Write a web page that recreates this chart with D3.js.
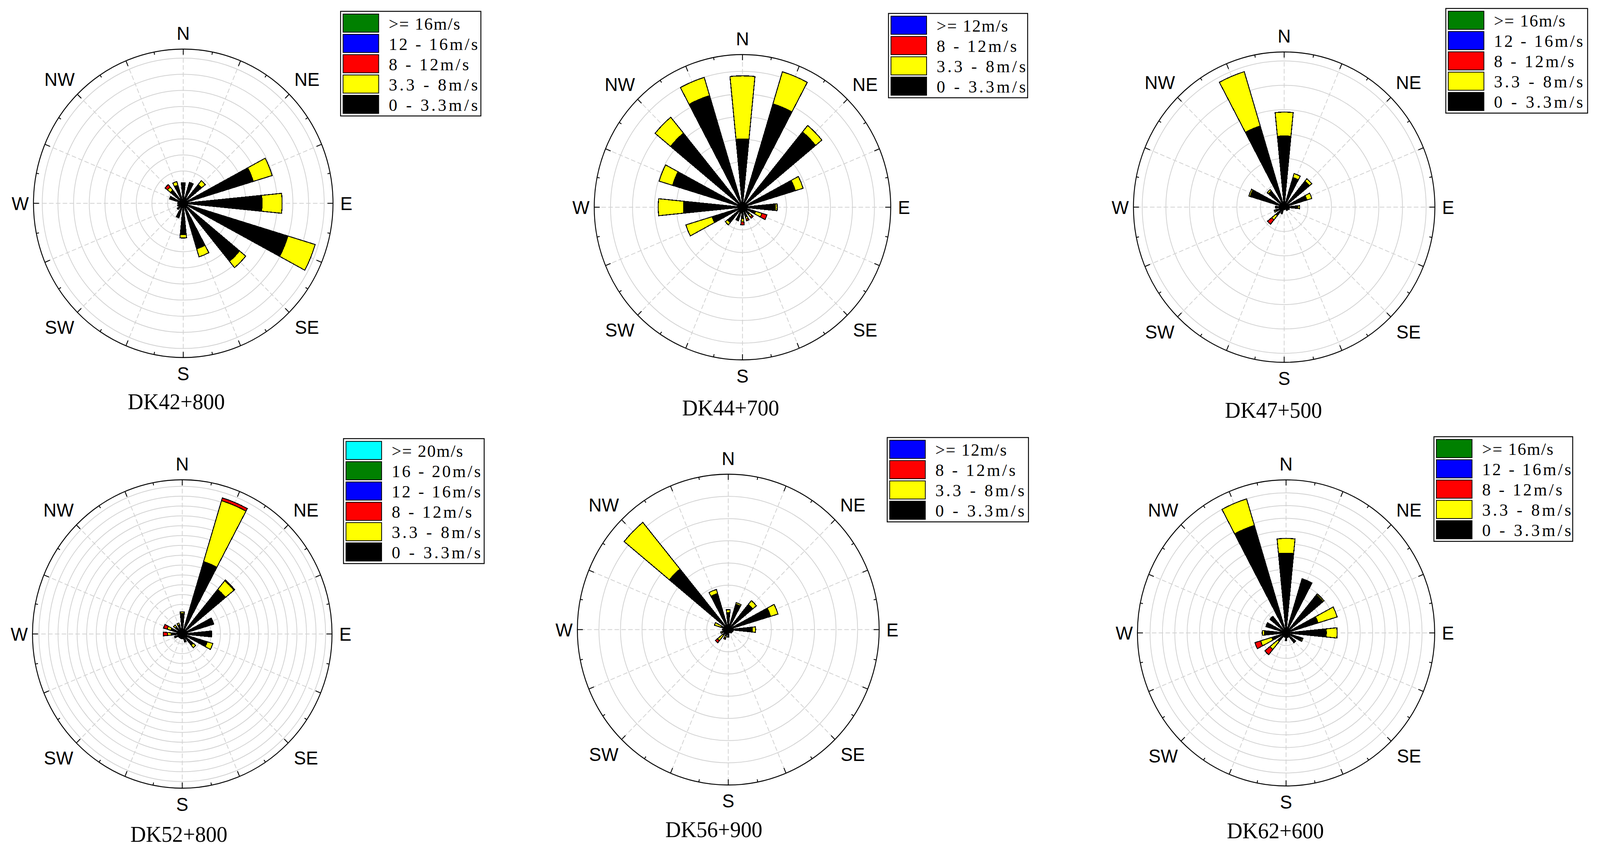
<!DOCTYPE html>
<html>
<head>
<meta charset="utf-8">
<script src="https://cdn.jsdelivr.net/npm/d3@7"></script>
<style>
  html, body { margin: 0; padding: 0; background: #fff; overflow: hidden; width: 100%; height: 100%; }
  svg { display: block; width: 100vw; height: 100vh; }
</style>
</head>
<body>
<svg id="chart" viewBox="0 0 4220 2177" preserveAspectRatio="none"></svg>
<script>
// ---------- data (frequency per direction, N clockwise in 16 sectors) ----------
const directions = ["N","NNE","NE","ENE","E","ESE","SE","SSE","S","SSW","SW","WSW","W","WNW","NW","NNW"];
const compassLabels = ["N","NE","E","SE","S","SW","W","NW"];

const dk42Light  = [1.22,1.36,1.50,4.67,5.03,6.98,4.65,2.95,1.94,0.94,0.50,0.38,0.36,0.91,1.05,1.17];
const dk42Medium = [0.05,0,0.32,1.26,1.28,1.82,0.51,0.52,0.21,0,0,0,0,0,0.25,0.24];
const dk42Strong = [0,0,0,0,0,0,0,0,0,0,0,0,0,0,0.20,0];

const dk44Light  = [3.01,4.77,4.30,2.51,1.50,0.62,0.42,0.45,0.50,0.63,0.88,1.44,2.68,3.32,4.23,5.15];
const dk44Medium = [2.79,1.48,0.37,0.37,0.08,0.30,0.13,0.10,0.14,0,0.13,1.25,1.15,0.64,0.91,0.84];
const dk44Strong = [0,0,0,0,0,0.24,0.08,0.08,0.14,0,0,0,0,0,0,0];

const dk47Light  = [2.92,1.27,1.38,1.00,0.58,0.23,0.18,0.10,0.10,0.29,0.45,0.38,0.37,1.50,0.86,3.48];
const dk47Medium = [0.98,0.17,0.13,0.22,0.07,0,0,0,0,0,0.23,0.06,0,0.06,0.07,2.33];
const dk47Strong = [0,0,0,0,0,0,0,0,0,0,0.23,0,0,0,0,0];

const dk52Light  = [2.10,7.68,5.85,3.44,3.07,2.73,1.48,0.86,0.50,0.48,0.48,0.85,1.15,1.25,0.95,0.98];
const dk52Medium = [0.14,6.47,1.15,0,0,0.61,0.33,0,0,0,0,0,0.40,0.40,0.23,0.18];
const dk52Strong = [0,0.30,0.10,0,0,0,0,0,0,0,0,0,0.43,0.40,0,0];

const dk56Light  = [0.76,1.20,1.47,2.05,1.12,0.23,0.20,0.15,0.34,0.30,0.33,0.30,0.27,0.36,3.53,1.70];
const dk56Medium = [0.14,0.07,0.22,0.36,0.15,0,0,0,0,0.10,0.32,0.07,0,0.31,2.72,0.19];
const dk56Strong = [0,0,0,0,0,0,0,0,0,0.06,0.12,0,0,0,0,0];

const dk62Light  = [6.26,4.45,3.87,2.70,3.26,1.34,1.00,0.38,0.61,0.35,0.87,1.20,1.75,1.70,1.69,8.82];
const dk62Medium = [1.16,0,0.10,1.62,0.87,0.09,0,0,0,0,0.81,0.95,0.17,0,0,2.18];
const dk62Strong = [0,0,0,0,0,0,0,0,0,0,0.54,0.48,0,0,0,0];

const legendFour = [">= 12m/s","8 - 12m/s","3.3 - 8m/s","0 - 3.3m/s"];
const legendFive = [">= 16m/s","12 - 16m/s","8 - 12m/s","3.3 - 8m/s","0 - 3.3m/s"];
const legendSix  = [">= 20m/s","16 - 20m/s","12 - 16m/s","8 - 12m/s","3.3 - 8m/s","0 - 3.3m/s"];
const legendColours = ["#00ffff","#008000","#0000ff","#ff0000","#ffff00","#000000"];
const bandColours = ["#000000","#ffff00","#ff0000"];
const bandKeys = ["light","medium","strong"];

// ---------- layout ----------
const panels = [
  {title:"DK42+800", light:dk42Light, medium:dk42Medium, strong:dk42Strong, legend:legendFive,
   cx:483.3, cy:520.7, R:395, max:9.56,  rings:9,  titleX:465,    titleY:1048, lx:898.3,  ly:29,     lw:370},
  {title:"DK44+700", light:dk44Light, medium:dk44Medium, strong:dk44Strong, legend:legendFour,
   cx:1958.3,cy:530.7, R:391, max:6.74,  rings:6,  titleX:1927,   titleY:1064, lx:2343.4, ly:34.4,   lw:367},
  {title:"DK47+500", light:dk47Light, medium:dk47Medium, strong:dk47Strong, legend:legendFive,
   cx:3387,  cy:530.5, R:397.5,max:6.37, rings:6,  titleX:3358.8, titleY:1070, lx:3813.3, ly:21.7,   lw:374},
  {title:"DK52+800", light:dk52Light, medium:dk52Medium, strong:dk52Strong, legend:legendSix,
   cx:480.7, cy:1623.7,R:395, max:15.67, rings:15, titleX:471.8,  titleY:2155.6,lx:906,   ly:1123.4, lw:371},
  {title:"DK56+900", light:dk56Light, medium:dk56Medium, strong:dk56Strong, legend:legendFour,
   cx:1920.8,cy:1612.5,R:398, max:7,     rings:6,  titleX:1882.7, titleY:2144, lx:2340,   ly:1120.6, lw:372.6},
  {title:"DK62+600", light:dk62Light, medium:dk62Medium, strong:dk62Strong, legend:legendFive,
   cx:3392,  cy:1621,  R:392, max:12.02, rings:11, titleX:3363.8, titleY:2147.4,lx:3782,  ly:1118.5, lw:366}
];

const svg = d3.select("#chart");
const TAU = 2 * Math.PI;
const sectorAngle = d3.scaleLinear().domain([0, directions.length]).range([0, TAU]);
const halfWidth = sectorAngle(1) / 4;
const polar = (r, a) => [r * Math.sin(a), -r * Math.cos(a)];

panels.forEach(p => {
  const g = svg.append("g").attr("transform", `translate(${p.cx},${p.cy})`);
  const radius = d3.scaleLinear().domain([0, p.max]).range([0, p.R]);

  // rings
  g.append("g").selectAll("circle").data(d3.range(1, p.rings + 1)).join("circle")
    .attr("r", d => radius(d)).attr("fill", "none")
    .attr("stroke", "#d2d2d2").attr("stroke-width", 2);

  // dashed spokes
  g.append("g").selectAll("line").data(directions).join("line")
    .attr("x1", 0).attr("y1", 0)
    .attr("x2", (d, i) => polar(p.R, sectorAngle(i))[0])
    .attr("y2", (d, i) => polar(p.R, sectorAngle(i))[1])
    .attr("stroke", "#d2d2d2").attr("stroke-width", 2).attr("stroke-dasharray", "12 6");

  // stacked wedges
  const rows = directions.map((d, i) => ({dir: d, i, light: p.light[i], medium: p.medium[i], strong: p.strong[i]}));
  const stacked = d3.stack().keys(bandKeys)(rows);
  const arc = d3.arc()
    .innerRadius(d => radius(d[0]))
    .outerRadius(d => radius(d[1]))
    .startAngle(d => sectorAngle(d.data.i) - halfWidth)
    .endAngle(d => sectorAngle(d.data.i) + halfWidth);
  g.append("g").selectAll("g").data(stacked).join("g")
    .attr("fill", (s, k) => bandColours[k])
    .selectAll("path").data(s => s.filter(d => d[1] > d[0])).join("path")
    .attr("d", arc)
    .attr("stroke", "#000").attr("stroke-width", 2.4).attr("stroke-linejoin", "miter")
    .attr("shape-rendering", "crispEdges");

  // axis circle and ticks
  g.append("circle").attr("r", p.R).attr("fill", "none").attr("stroke", "#000").attr("stroke-width", 2.4);
  g.append("g").selectAll("line").data(d3.range(0, 32)).join("line")
    .attr("x1", d => polar(p.R, sectorAngle(d / 2))[0])
    .attr("y1", d => polar(p.R, sectorAngle(d / 2))[1])
    .attr("x2", d => polar(p.R - (d % 2 ? 7 : 14.5), sectorAngle(d / 2))[0])
    .attr("y2", d => polar(p.R - (d % 2 ? 7 : 14.5), sectorAngle(d / 2))[1])
    .attr("stroke", "#000").attr("stroke-width", 2.2);

  // compass labels
  const diag = p.R * Math.SQRT1_2;
  const labelOffset = i => {
    const a = [[0,-(p.R+41)],[diag+47,-(diag+38)],[p.R+35,0],[diag+47,diag+38],
               [0,p.R+41],[-(diag+47),diag+38],[-(p.R+35),0],[-(diag+47),-(diag+38)]];
    return a[i];
  };
  g.append("g").selectAll("text").data(compassLabels).join("text")
    .attr("x", (d, i) => labelOffset(i)[0])
    .attr("y", (d, i) => labelOffset(i)[1] + 17)
    .attr("text-anchor", "middle")
    .attr("font-family", "'Liberation Sans', Arial, sans-serif")
    .attr("font-size", 48).attr("fill", "#000")
    .text(d => d);

  // title
  svg.append("text").attr("x", p.titleX).attr("y", p.titleY)
    .attr("text-anchor", "middle")
    .attr("font-family", "'Liberation Serif', serif")
    .attr("font-size", 57).attr("fill", "#000")
    .attr("textLength", 256).attr("lengthAdjust", "spacing")
    .text(p.title);

  // legend
  const n = p.legend.length;
  const lg = svg.append("g").attr("transform", `translate(${p.lx},${p.ly})`);
  lg.append("rect").attr("width", p.lw).attr("height", n * 52 + 8)
    .attr("fill", "#fff").attr("stroke", "#000").attr("stroke-width", 2.4);
  const colours = legendColours.slice(legendColours.length - n);
  const row = lg.selectAll("g").data(p.legend).join("g")
    .attr("transform", (d, i) => `translate(0,${7 + i * 52})`);
  row.append("rect").attr("x", 6.5).attr("width", 94).attr("height", 46.5)
    .attr("fill", (d, i) => colours[i]).attr("stroke", "#000").attr("stroke-width", 2);
  row.append("text").attr("x", 127).attr("y", 39.5)
    .attr("font-family", "'Liberation Serif', serif")
    .attr("font-size", 45).attr("fill", "#000")
    .attr("textLength", d => d.length * 23.5).attr("lengthAdjust", "spacing")
    .text(d => d);
});
</script>
</body>
</html>
